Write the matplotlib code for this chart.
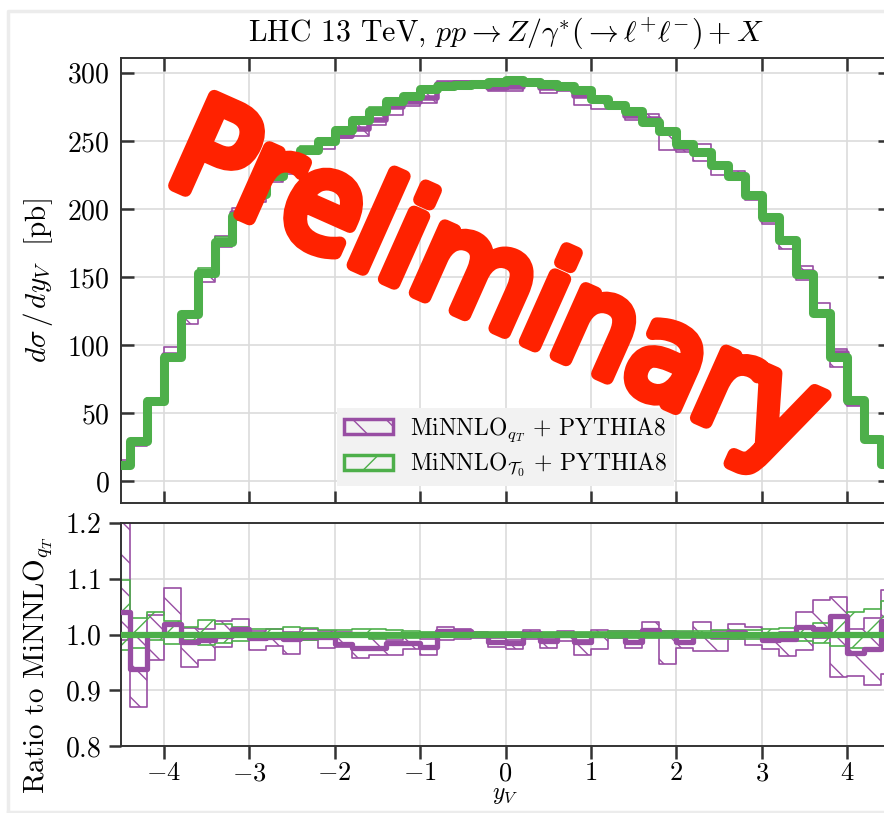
import numpy as np
import matplotlib
matplotlib.use("Agg")
import matplotlib.pyplot as plt
from matplotlib.patches import Patch, PathPatch
from matplotlib.lines import Line2D
from matplotlib.textpath import TextPath
from matplotlib.font_manager import FontProperties
from matplotlib.transforms import Affine2D, IdentityTransform

plt.rcParams['font.family'] = 'serif'
plt.rcParams['font.serif'] = ['cmr10']
plt.rcParams['mathtext.fontset'] = 'cm'
plt.rcParams['axes.formatter.use_mathtext'] = True
plt.rcParams['hatch.linewidth'] = 1.0

purple = '#984ea3'
green = '#4daf4a'

# bin edges in y_V (0.2 wide)
edges = np.round(np.arange(-4.6, 4.61, 0.2), 2)

# MiNNLO_T0 + Pythia8 central values [pb]
tau0_xsec = [12, 30, 59, 91, 123, 153, 176, 195, 211, 224, 234, 243, 250, 258,
             265, 272, 279, 283, 288, 290, 291, 292, 293, 294.5, 293, 292, 290,
             287, 281, 276, 272, 264, 257, 248, 242, 232, 224, 210, 194, 177,
             152, 123.5, 91, 59.5, 31.5, 13]
tau0_lo = [0.972, 0.975, 0.99, 0.983, 0.99, 0.982, 0.984, 0.989, 0.994, 0.994,
           0.992, 0.99, 0.994, 0.995, 0.996, 0.992, 0.993, 0.994, 0.995, 0.995,
           0.995, 0.995, 0.995, 0.995, 0.995, 0.995, 0.995, 0.995, 0.995, 0.993,
           0.993, 0.993, 0.993, 0.993, 0.993, 0.992, 0.992, 0.992, 0.99, 0.99,
           0.988, 0.985, 0.98, 0.975, 0.975, 0.98]
tau0_hi = [1.097, 1.029, 1.04, 1.025, 1.014, 1.026, 1.019, 1.013, 1.01, 1.01,
           1.013, 1.012, 1.008, 1.008, 1.01, 1.01, 1.008, 1.006, 1.005, 1.005,
           1.005, 1.005, 1.005, 1.005, 1.005, 1.005, 1.005, 1.005, 1.005, 1.006,
           1.007, 1.006, 1.006, 1.006, 1.006, 1.008, 1.008, 1.008, 1.01, 1.012,
           1.015, 1.02, 1.03, 1.04, 1.045, 1.06]

# MiNNLO_qT + Pythia8 relative to the T0 curve
qt_ratio = [1.04, 0.938, 1.0, 1.018, 0.986, 0.99, 0.998, 1.01, 0.994, 0.995,
            0.992, 0.996, 0.995, 0.983, 0.976, 0.976, 0.984, 0.984, 0.978, 1.007,
            1.006, 1.0, 0.986, 0.984, 1.002, 0.988, 1.0, 0.986, 1.0, 1.0,
            0.986, 1.008, 1.0, 0.986, 1.0, 0.998, 1.004, 1.0, 0.99, 0.992,
            1.013, 1.01, 1.034, 0.966, 0.974, 1.025]
qt_lo = [0.99, 0.87, 0.955, 1.0, 0.942, 0.955, 0.977, 1.0, 0.972, 0.98,
         0.965, 0.99, 0.976, 0.977, 0.958, 0.963, 0.964, 0.974, 0.964, 0.99,
         0.992, 0.994, 0.978, 0.974, 0.992, 0.976, 0.989, 0.964, 0.974, 0.994,
         0.976, 1.004, 0.947, 0.976, 0.971, 0.971, 0.992, 0.982, 0.974, 0.962,
         0.972, 0.994, 0.923, 0.925, 0.91, 0.93]
qt_hi = [1.3, 1.0, 1.035, 1.083, 1.012, 1.01, 1.025, 1.028, 1.007, 1.01,
         1.004, 1.01, 1.007, 1.004, 0.995, 0.993, 0.99, 0.995, 0.992, 1.014,
         1.01, 1.004, 0.994, 0.99, 1.008, 0.994, 1.006, 0.99, 1.008, 1.006,
         1.007, 1.022, 1.007, 1.004, 1.022, 1.006, 1.018, 1.013, 1.001, 1.004,
         1.04, 1.062, 1.068, 1.01, 1.03, 1.08]

tau0 = np.array(tau0_xsec)
qt = tau0 * np.array(qt_ratio)


def step(vals):
    v = np.asarray(vals, dtype=float)
    return np.append(v, v[-1])


W, H = 884, 813
fig = plt.figure(figsize=(W / 100, H / 100), dpi=100)
ax1 = fig.add_axes([121 / W, (H - 503) / H, 769 / W, 445 / H])
ax2 = fig.add_axes([121 / W, (H - 746) / H, 769 / W, 223 / H])

# top panel
ax1.fill_between(edges, step(tau0 * np.array(qt_lo)), step(tau0 * np.array(qt_hi)),
                 step='post', facecolor='none', edgecolor=purple, hatch='\\',
                 linewidth=1.2, zorder=2)
ax1.fill_between(edges, step(tau0 * np.array(tau0_lo)), step(tau0 * np.array(tau0_hi)),
                 step='post', facecolor='none', edgecolor=green, hatch='/',
                 linewidth=1.2, zorder=2)
ax1.step(edges, step(qt), where='post', color=purple, lw=4, zorder=3)
ax1.step(edges, step(tau0), where='post', color=green, lw=6.5, zorder=4)

# ratio panel
ax2.fill_between(edges, step(qt_lo), step(qt_hi), step='post', facecolor='none',
                 edgecolor=purple, hatch='\\', linewidth=1.2, zorder=2)
ax2.fill_between(edges, step(tau0_lo), step(tau0_hi), step='post', facecolor='none',
                 edgecolor=green, hatch='/', linewidth=1.2, zorder=2)
ax2.step(edges, step(qt_ratio), where='post', color=purple, lw=3.8, zorder=3)
ax2.step(edges, step(tau0 / tau0), where='post', color=green, lw=4.5, zorder=4)

for ax in (ax1, ax2):
    ax.set_xlim(-4.5, 4.5)
    ax.set_xticks(np.arange(-4, 5, 1))
    ax.grid(True, color='#dcdcdc', lw=1.2)
    ax.set_axisbelow(True)
    for s in ax.spines.values():
        s.set_color('#333333')
        s.set_linewidth(1.4)
    ax.tick_params(labelsize=20, length=9, width=1.8, color='#333333')

ax1.set_ylim(-15.8, 310.8)
ax1.set_yticks(np.arange(0, 301, 50))
ax1.tick_params(direction='in', top=True, right=True, labelbottom=False, pad=8)
ax2.set_ylim(0.8, 1.2)
ax2.set_yticks([0.8, 0.9, 1.0, 1.1, 1.2])
ax2.tick_params(direction='out', pad=5)
ax2.tick_params(axis='x', pad=2, labelsize=19)

ax1.set_title(r'LHC 13 TeV, $pp \to Z/\gamma^{*}(\to \ell^{+}\ell^{-}) + X$',
              fontsize=21.5, pad=12)
ax1.set_ylabel(r'$d\sigma\, /\, dy_V$  [pb]', fontsize=21)
ax2.set_ylabel(r'Ratio to MiNNLO$_{q_T}$', fontsize=21)
ax2.set_xlabel(r'$y_V$', fontsize=17, labelpad=-1)
ax1.yaxis.set_label_coords(-0.086, 0.5)
ax2.yaxis.set_label_coords(-0.086, 0.36)

handles = [Patch(facecolor='none', edgecolor=purple, hatch='\\', linewidth=2.5),
           Patch(facecolor='none', edgecolor=green, hatch='/', linewidth=2.5)]
labels = [r'MiNNLO$_{q_T}$ + PYTHIA8', r'MiNNLO$_{\mathcal{T}_0}$ + PYTHIA8']
leg = ax1.legend(handles, labels, loc='lower center', fontsize=17, frameon=True,
                 fancybox=False, framealpha=1, handlelength=2.1, handleheight=0.6,
                 handletextpad=0.7, borderaxespad=0.7, labelspacing=0.3,
                 borderpad=0.3)
leg.get_frame().set_facecolor('#f2f2f2')
leg.get_frame().set_edgecolor('none')

# watermark, built as a stretched text path in pixel coordinates
tp = TextPath((0, 0), 'Preliminary', size=112,
              prop=FontProperties(family='DejaVu Sans'))
bb = tp.get_extents()
cx, cy = (bb.x0 + bb.x1) / 2, (bb.y0 + bb.y1) / 2
trans = (Affine2D().translate(-cx, -cy).scale(1.1, 1.2).rotate_deg(-24)
         .translate(500, H - 290))
fig.add_artist(PathPatch(trans.transform_path(tp), transform=IdentityTransform(),
                         facecolor='#ff2200', edgecolor='#ff2200', lw=9,
                         joinstyle='round', capstyle='round', zorder=10))

# light screenshot border
fig.add_artist(Line2D([8 / W, 8 / W, 1], [1 - 812 / H, 1 - 11 / H, 1 - 11 / H],
                      color='#ececec', lw=2.5))
fig.add_artist(Line2D([8 / W, 1], [1 - 812 / H, 1 - 812 / H], color='#ececec', lw=2.5))

fig.savefig('out.png', dpi=100)
